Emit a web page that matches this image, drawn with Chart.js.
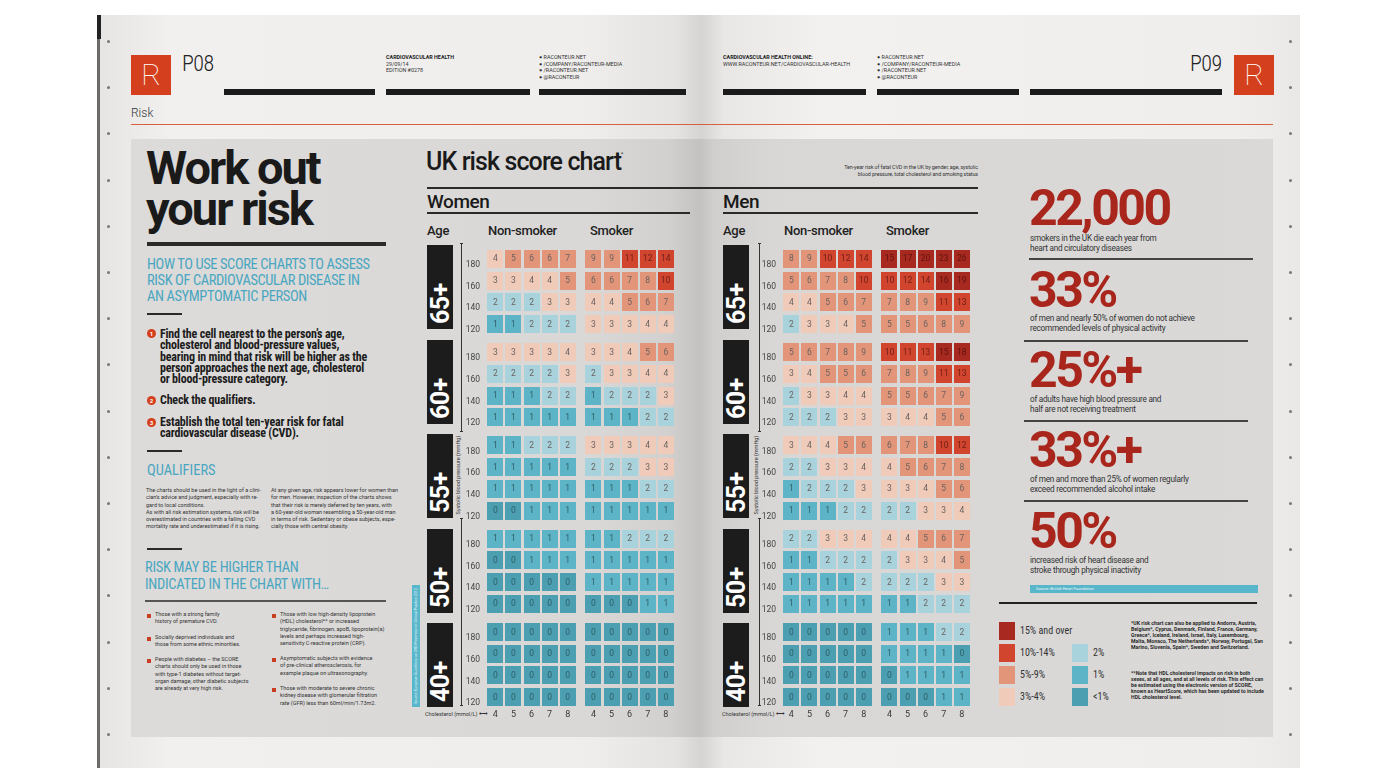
<!DOCTYPE html>
<html><head><meta charset="utf-8">
<script src="https://cdn.jsdelivr.net/npm/chart.js@4.4.1/dist/chart.umd.min.js"></script>
<style>
*{margin:0;padding:0;box-sizing:border-box}
body{width:1400px;height:784px;background:#fff;position:relative;overflow:hidden;font-family:Roboto,"Liberation Sans",sans-serif;color:#222}
.a{position:absolute;white-space:nowrap}
.narrow{font-family:"Liberation Sans Narrow","Roboto Condensed",Roboto,sans-serif}
#spread{left:97px;top:15px;width:1203px;height:753px;background:linear-gradient(90deg,#e6e5e4 0%,#f1f0ef 6%,#efeeed 40%,#e4e3e2 48%,#d5d4d3 50.1%,#e8e7e6 52%,#f2f1f0 60%,#efeeed 95%,#e9e8e7 100%);border-left:3px solid #6b6b6b}
#panel{left:131px;top:139px;width:1142px;height:598px;background:linear-gradient(90deg,#dcdbda 0%,#d9d8d7 40%,#d2d1d0 47%,#c3c2c1 49.8%,#d0cfce 51%,#d8d7d6 56%,#dad9d8 100%)}
.bar{height:6px;background:#1b1b1b;top:89px}
.logo{width:40px;height:40px;background:#d4401d;color:#fff;font:100 30px/40px Roboto,sans-serif;text-align:center;top:55px}
.pnum{font-size:22px;font-weight:300;top:51px;color:#222;letter-spacing:-0.5px}
.tiny{font-size:5.4px;line-height:6.6px;color:#333}
.tinyb{font-size:5.4px;line-height:6.6px;color:#222;font-weight:700}
.dot{width:3px;height:3px;border-radius:50%;background:#777}
.blue{color:#4aa6c0}
.rule{background:#2a2a2a}
.ageBox{width:26px;height:84px;background:#1c1c1c}
.ageBox span{position:absolute;left:-29px;top:29px;width:84px;height:26px;transform:rotate(-90deg);color:#fff;font-weight:700;font-size:25px;letter-spacing:-0.5px;line-height:27px;text-align:left;padding-left:5px}
.stat{color:#a8261c;font-weight:700;font-size:50px;letter-spacing:-2.5px;line-height:50px}
.sdesc{font-size:8.2px;line-height:9.6px;color:#333;letter-spacing:-0.25px}
.body6{font-size:5.5px;line-height:7.3px;color:#333}
.sq{width:4px;height:4px;background:#c93d22}
.num{width:9px;height:9px;border-radius:50%;background:#d4401d;color:#fff;font:700 6px/9px Roboto;text-align:center}
.step{font-size:12px;line-height:11.3px;font-weight:700;letter-spacing:-0.2px;color:#1c1c1c}
</style></head>
<body>
<div id="spread" class="a"></div>
<div class="a" style="left:97px;top:15px;width:4px;height:24px;background:#222"></div>
<div id="panel" class="a"></div>
<div id="dots"></div>

<!-- header left -->
<div class="a logo" style="left:131px">R</div>
<div class="a pnum narrow" style="left:182px">P08</div>
<div class="a bar" style="left:224px;width:151px"></div>
<div class="a bar" style="left:386px;width:144px"></div>
<div class="a bar" style="left:539px;width:147px"></div>
<div class="a tinyb" style="left:386px;top:54px">CARDIOVASCULAR HEALTH</div>
<div class="a tiny" style="left:386px;top:60.5px">29/09/14<br>EDITION #0278</div>
<div class="a tiny" style="left:539px;top:54px;line-height:6.6px">&#9679; RACONTEUR.NET<br>&#9679; /COMPANY/RACONTEUR-MEDIA<br>&#9679; /RACONTEUR.NET<br>&#9679; @RACONTEUR</div>
<!-- header right -->
<div class="a tinyb" style="left:723px;top:54px">CARDIOVASCULAR HEALTH ONLINE:</div>
<div class="a tiny" style="left:723px;top:60.5px">WWW.RACONTEUR.NET/CARDIOVASCULAR-HEALTH</div>
<div class="a tiny" style="left:877px;top:54px">&#9679; RACONTEUR.NET<br>&#9679; /COMPANY/RACONTEUR-MEDIA<br>&#9679; /RACONTEUR.NET<br>&#9679; @RACONTEUR</div>
<div class="a bar" style="left:723px;width:143px"></div>
<div class="a bar" style="left:877px;width:142px"></div>
<div class="a bar" style="left:1030px;width:192px"></div>
<div class="a pnum narrow" style="left:1190px">P09</div>
<div class="a logo" style="left:1234px">R</div>

<div class="a" style="left:131px;top:106px;font-size:12px;font-weight:300;color:#333">Risk</div>
<div class="a" style="left:131px;top:124px;width:1142px;height:1px;background:#d9603f"></div>

<!-- left column -->
<div class="a" style="left:146px;top:147px;font-size:47px;line-height:41px;font-weight:700;letter-spacing:-2px;color:#1a1a1a">Work out<br>your risk</div>
<div class="a rule" style="left:147px;top:242px;width:239px;height:4px"></div>
<div class="a blue narrow" style="left:147px;top:257px;font-size:14.5px;line-height:16px;letter-spacing:-0.4px">HOW TO USE SCORE CHARTS TO ASSESS<br>RISK OF CARDIOVASCULAR DISEASE IN<br>AN ASYMPTOMATIC PERSON</div>
<div class="a rule" style="left:147px;top:313px;width:35px;height:1.5px"></div>
<div class="a num" style="left:147px;top:329px">1</div>
<div class="a step narrow" style="left:160px;top:329px">Find the cell nearest to the person’s age,<br>cholesterol and blood-pressure values,<br>bearing in mind that risk will be higher as the<br>person approaches the next age, cholesterol<br>or blood-pressure category.</div>
<div class="a num" style="left:147px;top:396px">2</div>
<div class="a step narrow" style="left:160px;top:395px">Check the qualifiers.</div>
<div class="a num" style="left:147px;top:418px">3</div>
<div class="a step narrow" style="left:160px;top:417px">Establish the total ten-year risk for fatal<br>cardiovascular disease (CVD).</div>
<div class="a rule" style="left:147px;top:450px;width:35px;height:1.5px"></div>
<div class="a blue narrow" style="left:147px;top:463px;font-size:14.5px;line-height:16px">QUALIFIERS</div>
<div class="a body6" style="left:146px;top:487px">The charts should be used in the light of a clini-<br>cian’s advice and judgment, especially with re-<br>gard to local conditions.<br>As with all risk estimation systems, risk will be<br>overestimated in countries with a falling CVD<br>mortality rate and underestimated if it is rising.</div>
<div class="a body6" style="left:271px;top:487px">At any given age, risk appears lower for women than<br>for men. However, inspection of the charts shows<br>that their risk is merely deferred by ten years, with<br>a 60-year-old woman resembling a 50-year-old man<br>in terms of risk. Sedentary or obese subjects, espe-<br>cially those with central obesity.</div>
<div class="a rule" style="left:147px;top:548px;width:35px;height:1.5px"></div>
<div class="a blue narrow" style="left:145px;top:559px;font-size:14.5px;line-height:17px;letter-spacing:-0.3px">RISK MAY BE HIGHER THAN<br>INDICATED IN THE CHART WITH…</div>
<div class="a" style="left:145px;top:600px;width:241px;height:1.5px;background:#555"></div>
<div id="bullets"></div>

<!-- chart headings -->
<div class="a" style="left:426px;top:147px;font-size:25px;font-weight:500;letter-spacing:-0.9px;color:#1a1a1a">UK risk score chart<sup style="font-size:5px;vertical-align:14px">*</sup></div>
<div class="a tiny" style="left:760px;top:164px;width:218px;text-align:right;letter-spacing:-0.1px">Ten-year risk of fatal CVD in the UK by gender, age, systolic<br>blood pressure, total cholesterol and smoking status</div>
<div class="a rule" style="left:427px;top:187px;width:551px;height:1.5px"></div>
<div class="a" style="left:427px;top:190px;font-size:19px;font-weight:500;letter-spacing:-0.4px;color:#1a1a1a">Women</div>
<div class="a rule" style="left:427px;top:212px;width:263px;height:1.5px"></div>
<div class="a" style="left:723px;top:190px;font-size:19px;font-weight:500;letter-spacing:-0.4px;color:#1a1a1a">Men</div>
<div class="a rule" style="left:723px;top:212px;width:255px;height:1.5px"></div>
<div class="a" style="left:427px;top:223px;font-size:13px;font-weight:500;letter-spacing:-0.3px">Age</div>
<div class="a" style="left:488px;top:223px;font-size:13px;font-weight:500;letter-spacing:-0.3px">Non-smoker</div>
<div class="a" style="left:590px;top:223px;font-size:13px;font-weight:500;letter-spacing:-0.3px">Smoker</div>
<div class="a" style="left:723px;top:223px;font-size:13px;font-weight:500;letter-spacing:-0.3px">Age</div>
<div class="a" style="left:784px;top:223px;font-size:13px;font-weight:500;letter-spacing:-0.3px">Non-smoker</div>
<div class="a" style="left:886px;top:223px;font-size:13px;font-weight:500;letter-spacing:-0.3px">Smoker</div>

<div id="ageBoxes"></div>
<div id="axisDeco"></div>

<canvas id="womenChart" class="a" width="240" height="488" style="left:452px;top:236px"></canvas>
<canvas id="menChart" class="a" width="240" height="488" style="left:748px;top:236px"></canvas>

<!-- source bar left -->
<div class="a" style="left:412px;top:585px;width:8px;height:122px;background:#59b7cc"></div>
<div class="a" style="left:416px;top:646px;font-size:3.6px;color:#e8f6fa;transform:translate(-50%,-50%) rotate(-90deg)">Source: European Guidelines on CVD Prevention in Clinical Practice 2012</div>

<!-- right column -->
<div class="a stat" style="left:1029px;top:183px">22,000</div>
<div class="a sdesc" style="left:1030px;top:234px">smokers in the UK die each year from<br>heart and circulatory diseases</div>
<div class="a" style="left:1029px;top:258px;width:224px;height:1.5px;background:#444"></div>
<div class="a stat" style="left:1029px;top:265px">33%</div>
<div class="a sdesc" style="left:1030px;top:314px">of men and nearly 50% of women do not achieve<br>recommended levels of physical activity</div>
<div class="a" style="left:1024px;top:340px;width:224px;height:1.5px;background:#444"></div>
<div class="a stat" style="left:1029px;top:345px">25%+</div>
<div class="a sdesc" style="left:1030px;top:395px">of adults have high blood pressure and<br>half are not receiving treatment</div>
<div class="a" style="left:1024px;top:420px;width:224px;height:1.5px;background:#444"></div>
<div class="a stat" style="left:1029px;top:425px">33%+</div>
<div class="a sdesc" style="left:1030px;top:475px">of men and more than 25% of women regularly<br>exceed recommended alcohol intake</div>
<div class="a" style="left:1024px;top:500px;width:224px;height:1.5px;background:#444"></div>
<div class="a stat" style="left:1029px;top:506px">50%</div>
<div class="a sdesc" style="left:1030px;top:556px">increased risk of heart disease and<br>stroke through physical inactivity</div>
<div class="a" style="left:1030px;top:585px;width:228px;height:8px;background:#58b6cb"></div>
<div class="a" style="left:1036px;top:586px;font-size:4px;line-height:6px;color:#eaf6f9">Source: British Heart Foundation</div>
<div class="a" style="left:999px;top:602px;width:258px;height:2px;background:#222"></div>
<div id="legend"></div>
<div class="a tinyb" style="left:1131px;top:620px;font-size:5.2px;line-height:6px;color:#2a2a2a">*UK risk chart can also be applied to Andorra, Austria,<br>Belgium*, Cyprus, Denmark, Finland, France, Germany,<br>Greece*, Iceland, Ireland, Israel, Italy, Luxembourg,<br>Malta, Monaco, The Netherlands*, Norway, Portugal, San<br>Marino, Slovenia, Spain*, Sweden and Switzerland.</div>
<div class="a tinyb" style="left:1131px;top:670px;font-size:5.2px;line-height:6px;color:#2a2a2a">**Note that HDL cholesterol impacts on risk in both<br>sexes, at all ages, and at all levels of risk. This effect can<br>be estimated using the electronic version of SCORE,<br>known as HeartScore, which has been updated to include<br>HDL cholesterol level.</div>

<script>
// ---------------- DATA ----------------
const ageGroups = ['40+', '50+', '55+', '60+', '65+'];      // bottom -> top
const bpLevels = ['120', '140', '160', '180'];              // systolic BP, bottom -> top
const cholesterolLevels = ['4', '5', '6', '7', '8'];        // mmol/L

// rows as printed, top -> bottom: 65+ (180,160,140,120), 60+, 55+, 50+, 40+
const womenNonSmoker = [
  [4,5,6,6,7],[3,3,4,4,5],[2,2,2,3,3],[1,1,2,2,2],
  [3,3,3,3,4],[2,2,2,2,3],[1,1,1,2,2],[1,1,1,1,1],
  [1,1,2,2,2],[1,1,1,1,1],[1,1,1,1,1],[0,0,1,1,1],
  [1,1,1,1,1],[0,0,1,1,1],[0,0,0,0,0],[0,0,0,0,0],
  [0,0,0,0,0],[0,0,0,0,0],[0,0,0,0,0],[0,0,0,0,0]
];
const womenSmoker = [
  [9,9,11,12,14],[6,6,7,8,10],[4,4,5,6,7],[3,3,3,4,4],
  [3,3,4,5,6],[2,3,3,4,4],[1,2,2,2,3],[1,1,1,2,2],
  [3,3,3,4,4],[2,2,2,3,3],[1,1,1,2,2],[1,1,1,1,1],
  [1,1,2,2,2],[1,1,1,1,1],[1,1,1,1,1],[0,0,0,1,1],
  [0,0,0,0,0],[0,0,0,0,0],[0,0,0,0,0],[0,0,0,0,0]
];
const menNonSmoker = [
  [8,9,10,12,14],[5,6,7,8,10],[4,4,5,6,7],[2,3,3,4,5],
  [5,6,7,8,9],[3,4,5,5,6],[2,3,3,4,4],[2,2,2,3,3],
  [3,4,4,5,6],[2,2,3,3,4],[1,2,2,2,3],[1,1,1,2,2],
  [2,2,3,3,4],[1,1,2,2,2],[1,1,1,1,2],[1,1,1,1,1],
  [0,0,0,0,0],[0,0,0,0,0],[0,0,0,0,0],[0,0,0,0,0]
];
const menSmoker = [
  [15,17,20,23,26],[10,12,14,16,19],[7,8,9,11,13],[5,5,6,8,9],
  [10,11,13,15,18],[7,8,9,11,13],[5,5,6,7,9],[3,4,4,5,6],
  [6,7,8,10,12],[4,5,6,7,8],[3,3,4,5,6],[2,2,3,3,4],
  [4,4,5,6,7],[2,3,3,4,5],[2,2,2,3,3],[1,1,2,2,2],
  [1,1,1,2,2],[1,1,1,1,0],[0,1,1,1,1],[0,0,0,1,1]
];

const riskBandLabels = ['15% and over', '10%-14%', '5%-9%', '3%-4%', '2%', '1%', '<1%'];
const riskBandColors = ['#a8291f', '#d1452f', '#e3957a', '#f0cbba', '#a8d3dc', '#5db4c6', '#4b9fb1'];

// ---------------- helpers ----------------
function bandIndex(v){ if(v>=15)return 0; if(v>=10)return 1; if(v>=5)return 2; if(v>=3)return 3; if(v===2)return 4; if(v===1)return 5; return 6; }
const GROUP_STEP = 4.3, SMOKER_OFFSET = 5.42;

const cellImgs = riskBandColors.map(col => {
  const c = document.createElement('canvas'); c.width = 16; c.height = 18;
  const g = c.getContext('2d'); g.fillStyle = col; g.fillRect(0, 0, 16, 18); return c;
});

function buildPoints(ns, sm){
  const pts = [];
  ns.forEach((row, r) => {
    const g = ageGroups.length - 1 - Math.floor(r / bpLevels.length);
    const b = bpLevels.length - 1 - (r % bpLevels.length);
    const y = g * GROUP_STEP + b;
    row.forEach((v, c) => pts.push({x: c, y: y, v: v}));
    sm[r].forEach((v, c) => pts.push({x: c + SMOKER_OFFSET, y: y, v: v}));
  });
  return pts;
}
const xTickVals = [];
cholesterolLevels.forEach((_, i) => xTickVals.push(i));
cholesterolLevels.forEach((_, i) => xTickVals.push(i + SMOKER_OFFSET));
const yTickVals = [];
ageGroups.forEach((_, g) => bpLevels.forEach((_, b) => yTickVals.push(g * GROUP_STEP + b)));

const cellLabels = {
  id: 'cellLabels',
  afterDatasetsDraw(chart){
    const ctx = chart.ctx, meta = chart.getDatasetMeta(0), data = chart.data.datasets[0].data;
    ctx.save();
    ctx.font = '8.5px Roboto, sans-serif'; ctx.textAlign = 'center'; ctx.textBaseline = 'middle';
    meta.data.forEach((el, i) => {
      const v = data[i].v, bi = bandIndex(v);
      ctx.fillStyle = bi === 0 ? '#5e1410' : bi === 1 ? '#6b1f16' : bi >= 5 ? '#2f5f69' : '#6b6360';
      ctx.fillText(String(v), el.x, el.y + 0.5);
    });
    ctx.restore();
  }
};

function makeChart(id, ns, sm){
  new Chart(document.getElementById(id), {
    type: 'scatter',
    data: { datasets: [{
      data: buildPoints(ns, sm),
      pointStyle: c => (c.raw ? cellImgs[bandIndex(c.raw.v)] : cellImgs[6]),
      pointRadius: 9, pointHoverRadius: 9
    }]},
    options: {
      responsive: false, animation: false, events: [],
      layout: { padding: { top: 4, left: 0, right: 0, bottom: 0 } },
      plugins: { legend: { display: false }, tooltip: { enabled: false } },
      scales: {
        x: {
          type: 'linear', min: -0.684, max: 10.316,
          afterBuildTicks: s => { s.ticks = xTickVals.map(v => ({value: v})); },
          afterFit: s => { s.height = 16; },
          ticks: { callback: (v, i) => cholesterolLevels[i % cholesterolLevels.length], autoSkip: false, maxRotation: 0, padding: 1, font: { size: 9, family: 'Roboto' }, color: '#3a3a3a' },
          grid: { display: false, drawTicks: false }, border: { display: false }
        },
        y: {
          type: 'linear', min: -0.5, max: 20.79,
          afterBuildTicks: s => { s.ticks = yTickVals.map(v => ({value: v})); },
          afterFit: s => { s.width = 31; },
          ticks: { callback: (v, i) => bpLevels[i % bpLevels.length], autoSkip: false, padding: 3, labelOffset: 6, font: { size: 8.5, family: 'Roboto' }, color: '#444' },
          grid: { display: false, drawTicks: false }, border: { display: false }
        }
      }
    },
    plugins: [cellLabels]
  });
}
makeChart('womenChart', womenNonSmoker, womenSmoker);
makeChart('menChart', menNonSmoker, menSmoker);

// ---------------- decorations / text blocks ----------------
let html = '';
// age boxes
[427, 723].forEach(x0 => {
  ageGroups.slice().reverse().forEach((a, k) => {
    const top = 245 + k * 94.5;
    html += `<div class="a ageBox" style="left:${x0}px;top:${top}px"><span>${a}</span></div>`;
  });
});
document.getElementById('ageBoxes').innerHTML = html;

// y axis deco lines
html = '';
[461, 759].forEach((x, k) => {
  html += `<div class="a" style="left:${x}px;top:244px;width:1px;height:188px;background:#333"></div>`;
  html += `<div class="a" style="left:${x}px;top:518px;width:1px;height:188px;background:#333"></div>`;
  html += `<div class="a" style="left:${x-1}px;top:243px;width:3px;height:1px;background:#333"></div>`;
  html += `<div class="a" style="left:${x-1}px;top:705px;width:3px;height:1px;background:#333"></div>`;
  html += `<div class="a" style="left:${x-1}px;top:431px;width:3px;height:1px;background:#333"></div>`;
  html += `<div class="a" style="left:${x-1}px;top:518px;width:3px;height:1px;background:#333"></div>`;
  html += `<div class="a" style="left:${x-3}px;top:475px;font-size:5.5px;color:#333;transform:translate(-50%,-50%) rotate(-90deg)">Systolic blood pressure (mmHg)</div>`;
  html += `<div class="a" style="left:${k ? 722 : 425}px;top:711px;font-size:5.5px;color:#333">Cholesterol (mmol/L) &#10231;</div>`;
});
document.getElementById('axisDeco').innerHTML = html;

// dots along page edges
html = '';
for (let i = 0; i < 16; i++) {
  const y = 40 + i * 46.2;
  html += `<div class="a dot" style="left:107px;top:${y}px"></div>`;
  html += `<div class="a dot" style="left:1289px;top:${y}px"></div>`;
}
document.getElementById('dots').innerHTML = html;

// bullets
const bulletsLeft = [
  ['Those with a strong family', 'history of premature CVD.'],
  ['Socially deprived individuals and', 'those from some ethnic minorities.'],
  ['People with diabetes – the SCORE', 'charts should only be used in those', 'with type-1 diabetes without target-', 'organ damage; other diabetic subjects', 'are already at very high risk.']
];
const bulletsRight = [
  ['Those with low high-density lipoprotein', '(HDL) cholesterol** or increased', 'triglyceride, fibrinogen, apoB, lipoprotein(a)', 'levels and perhaps increased high-', 'sensitivity C-reactive protein (CRP).'],
  ['Asymptomatic subjects with evidence', 'of pre-clinical atherosclerosis, for', 'example plaque on ultrasonography.'],
  ['Those with moderate to severe chronic', 'kidney disease with glomerular filtration', 'rate (GFR) less than 60ml/min/1.73m2.']
];
html = '';
function bl(list, xs, xt, tops){
  list.forEach((lines, i) => {
    html += `<div class="a sq" style="left:${xs}px;top:${tops[i]+1.5}px"></div>`;
    html += `<div class="a body6" style="left:${xt}px;top:${tops[i]-1}px">${lines.join('<br>')}</div>`;
  });
}
bl(bulletsLeft, 147, 155, [612, 635, 657]);
bl(bulletsRight, 272, 280, [612, 656, 686]);
document.getElementById('bullets').innerHTML = html;

// legend
html = '';
riskBandLabels.forEach((lab, i) => {
  const col = i < 4 ? 0 : 1;
  const row = i < 4 ? i : i - 3;
  const x = col ? 1072 : 999, y = 622 + row * 22;
  html += `<div class="a" style="left:${x}px;top:${y}px;width:16px;height:18px;background:${riskBandColors[i]}"></div>`;
  html += `<div class="a narrow" style="left:${x+21}px;top:${y+3}px;font-size:10px;color:#333">${lab}</div>`;
});
document.getElementById('legend').innerHTML = html;
</script>
</body></html>
